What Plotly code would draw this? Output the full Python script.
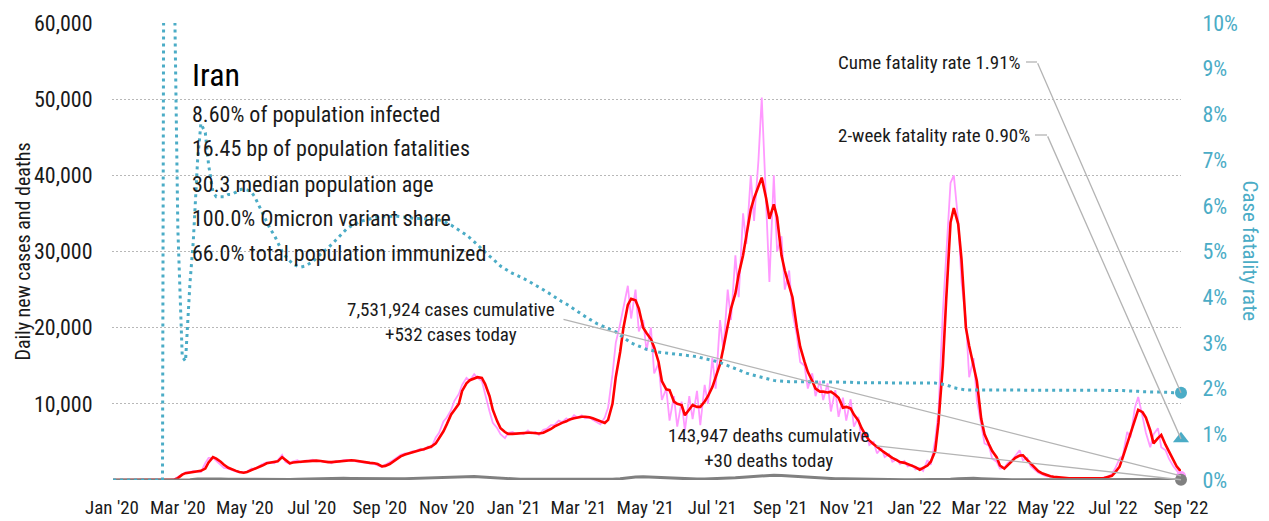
import pandas as pd
import plotly.graph_objects as go

# ---------------------------------------------------------------------------
# Data: Iran, Jan 2020 - Sep 2022.
# Case series and fatality rate are sampled twice a week (Thursday, Sunday),
# deaths once a week (Thursdays), all starting 2020-01-02.
# ---------------------------------------------------------------------------
START = "2020-01-02"

# 7-day average of daily new cases
cases_avg_2020 = [
    0, 0, 0, 0, 0, 0, 0, 0, 0, 0, 0, 0, 0, 0,
    0, 10, 60, 250, 700, 900, 1000, 1100, 1150, 1200, 1500, 2300, 3000, 2800, 2400, 2000, 1600, 1400, 1200, 1050,
    960, 1050, 1300, 1450, 1650, 1900, 2200, 2300, 2350, 2450, 3000, 2700, 2200, 2300, 2400, 2400, 2450, 2500, 2550, 2550,
    2500, 2400, 2350, 2350, 2400, 2450, 2550, 2600, 2600, 2550, 2450, 2350, 2300, 2250, 2200, 2100, 1800, 1850, 2100, 2400,
    2800, 3100, 3350, 3500, 3700, 3800, 3950, 4050, 4200, 4400, 4800, 5500, 6400, 7300, 8600, 9200, 10000, 11700, 12700, 13100,
    13300, 13500, 13400, 12600, 11000, 9200, 7700, 6800, 6300, 6050, 6050, 6100,
]
cases_avg_2021 = [
    6100, 6150, 6200, 6200, 6150, 6100, 6200, 6400, 6700, 7000, 7350, 7500, 7700, 7950, 8100, 8200, 8300, 8300, 8250, 8100,
    7900, 7700, 7500, 7900, 10000, 13500, 16800, 20000, 23000, 23800, 23600, 22500, 20000, 19300, 18500, 17400, 15500, 13000, 11900, 11800,
    10300, 10000, 9850, 8500, 9200, 9850, 9600, 9600, 10300, 11000, 12200, 13500, 15200, 17300, 20500, 22500, 24500, 27000, 29500, 32000,
    35500, 37000, 38500, 39700, 37000, 34300, 36200, 34500, 29500, 27500, 25500, 24000, 20000, 17500, 15500, 14200, 13000, 12000, 11600, 11600,
    11500, 11600, 11200, 10800, 9500, 9600, 9400, 8600, 7800, 6800, 5800, 5200, 4700, 4300, 3900, 3600, 3150, 2900, 2600, 2350,
    2250, 2100, 1950, 1700,
]
cases_avg_2022 = [
    1350, 1550, 1900, 2400, 3800, 7500, 15000, 23500, 33800, 35700, 33600, 29000, 20000, 17600, 15000, 13000, 8000, 6000, 4700, 3800,
    3000, 1900, 1500, 1900, 2500, 2900, 3200, 3250, 2600, 2150, 1600, 1150, 850, 650, 480, 420, 350, 300, 260, 230,
    220, 210, 200, 200, 200, 210, 220, 230, 260, 350, 550, 1000, 1750, 3000, 4800, 6300, 8000, 9200, 8900, 8200,
    6500, 4800, 5500, 5900, 4600, 3700, 2500, 1800, 1100,
]

# reported daily new cases
cases_daily_2020 = [
    0, 0, 0, 0, 0, 0, 0, 0, 0, 0, 0, 0, 0, 0,
    5, 20, 140, 380, 750, 1000, 1050, 1200, 1100, 1050, 2200, 2900, 2900, 2480, 1950, 1600, 1500, 1300, 1100, 1000,
    990, 1050, 1500, 1400, 1800, 2100, 2300, 2300, 2200, 2600, 3300, 2400, 2100, 2450, 2600, 2300, 2550, 2500, 2650, 2450,
    2500, 2350, 2400, 2200, 2500, 2400, 2600, 2650, 2550, 2450, 2400, 2300, 2250, 2200, 2100, 1900, 1700, 2000, 2300, 2600,
    3000, 3300, 3500, 3500, 3800, 3800, 4100, 3900, 4400, 4250, 5600, 6200, 7700, 8200, 9200, 10400, 11300, 12500, 13400, 13050,
    13900, 13400, 13000, 11200, 9000, 7500, 6800, 6000, 5500, 6200, 6300, 6000,
]
cases_daily_2021 = [
    6200, 6000, 6500, 6100, 6300, 5900, 6600, 6700, 7200, 7200, 7800, 7600, 8100, 7800, 8500, 8200, 8500, 8100, 8200, 7900,
    7600, 7300, 8200, 9500, 13900, 18000, 20500, 22500, 25500, 21200, 25000, 19500, 21000, 17000, 20000, 14000, 15300, 10500, 12000, 7800,
    11000, 7000, 10300, 6500, 11000, 8000, 11700, 7200, 12500, 10000, 16000, 12000, 21000, 17000, 25000, 21000, 29500, 24000, 35000, 31000,
    40000, 34000, 42000, 50200, 36000, 26000, 40000, 30000, 32000, 25000, 27500, 22000, 19000, 15500, 15000, 12000, 14000, 11000, 13000, 10500,
    12700, 9000, 11800, 8300, 10800, 7800, 10600, 7000, 8300, 5200, 6300, 4600, 5000, 3500, 4200, 3000, 3400, 2400, 2700, 2100,
    2500, 1800, 2000, 1400,
]
cases_daily_2022 = [
    1600, 1200, 2600, 2000, 5200, 9000, 22000, 30000, 39000, 40000, 34000, 26000, 21000, 13500, 16000, 10500, 7200, 4800, 4500, 2800,
    2400, 1500, 1600, 2200, 2600, 3200, 3900, 2600, 2900, 1800, 1300, 950, 700, 500, 460, 380, 330, 260, 250, 200,
    240, 170, 220, 180, 210, 200, 240, 200, 340, 400, 800, 1500, 2800, 3200, 6300, 5600, 9500, 10900, 8300, 6200,
    4300, 6000, 6800, 4300, 3900, 2800, 1800, 1200, 532,
]

# cumulative case fatality rate, percent
cfr_2020 = [
    0, 0, 0, 0, 0, 0, 0, 0, 0, 0, 0, 0, 0, 0,
    40, 18.6, 10.6, 5.5, 2.7, 2.6, 4.3, 5.2, 7.0, 7.8, 7.6, 6.9, 6.3, 6.2, 6.2, 6.2, 6.25, 6.25, 6.3, 6.35,
    6.37, 6.35, 6.3, 6.2, 6.0, 5.85, 5.65, 5.5, 5.35, 5.2, 5.0, 4.9, 4.8, 4.72, 4.68, 4.66, 4.68, 4.72, 4.78, 4.85,
    4.93, 5.0, 5.08, 5.15, 5.25, 5.33, 5.42, 5.5, 5.56, 5.6, 5.64, 5.67, 5.7, 5.72, 5.74, 5.75, 5.76, 5.76, 5.77, 5.77,
    5.77, 5.76, 5.75, 5.74, 5.73, 5.72, 5.72, 5.72, 5.72, 5.71, 5.7, 5.69, 5.66, 5.63, 5.58, 5.53, 5.47, 5.42, 5.36, 5.3,
    5.22, 5.15, 5.05, 4.98, 4.9, 4.84, 4.74, 4.68, 4.62, 4.57, 4.52, 4.49,
]
cfr_2021 = [
    4.45, 4.41, 4.36, 4.32, 4.27, 4.23, 4.17, 4.12, 4.06, 4.01, 3.95, 3.9, 3.85, 3.8, 3.74, 3.69, 3.63, 3.58, 3.52, 3.47,
    3.42, 3.39, 3.35, 3.32, 3.28, 3.24, 3.17, 3.12, 3.05, 3.0, 2.96, 2.93, 2.88, 2.86, 2.84, 2.82, 2.8, 2.79, 2.78, 2.77,
    2.76, 2.75, 2.74, 2.73, 2.72, 2.71, 2.7, 2.68, 2.66, 2.64, 2.62, 2.6, 2.57, 2.54, 2.5, 2.47, 2.43, 2.4, 2.36, 2.34,
    2.31, 2.29, 2.26, 2.24, 2.21, 2.19, 2.18, 2.17, 2.16, 2.15, 2.15, 2.15, 2.15, 2.15, 2.15, 2.15, 2.15, 2.15, 2.15, 2.14,
    2.14, 2.14, 2.14, 2.14, 2.14, 2.14, 2.14, 2.13, 2.13, 2.13, 2.13, 2.13, 2.13, 2.13, 2.13, 2.13, 2.13, 2.13, 2.13, 2.13,
    2.13, 2.12, 2.12, 2.12,
]
cfr_2022 = [
    2.12, 2.12, 2.12, 2.12, 2.12, 2.11, 2.1, 2.08, 2.05, 2.02, 2.0, 1.98, 1.97, 1.97, 1.97, 1.97, 1.97, 1.97, 1.97, 1.97,
    1.97, 1.97, 1.97, 1.97, 1.97, 1.97, 1.97, 1.97, 1.97, 1.96, 1.96, 1.96, 1.96, 1.96, 1.96, 1.96, 1.96, 1.96, 1.96, 1.96,
    1.96, 1.96, 1.96, 1.96, 1.96, 1.96, 1.96, 1.96, 1.96, 1.96, 1.96, 1.96, 1.96, 1.96, 1.95, 1.95, 1.94, 1.94, 1.93, 1.93,
    1.93, 1.92, 1.92, 1.92, 1.92, 1.92, 1.91, 1.91, 1.91,
]

# 7-day average of daily deaths (weekly)
deaths_avg_2020 = [
    0, 0, 0, 0, 0, 0, 0, 0.3, 4, 12, 45, 120, 140, 140, 125, 100, 85, 75, 60, 50, 50, 55,
    65, 75, 100, 125, 155, 190, 200, 210, 215, 190, 170, 150, 120, 115, 115, 150, 180,
    210, 230, 265, 320, 390, 430, 450, 470, 465, 390, 320, 230, 170, 125,
]
deaths_avg_2021 = [
    100, 90, 85, 80, 75, 75, 80, 85, 85, 85, 90, 90, 100, 160, 300, 400, 420, 380, 300, 220, 180,
    150, 130, 120, 130, 150, 180, 230, 300, 370, 450, 550, 620, 640, 590, 520, 430, 350, 280,
    230, 190, 165, 150, 125, 105, 90, 75, 60, 50, 45, 40, 35,
]
deaths_avg_2022 = [
    30, 30, 35, 50, 100, 180, 240, 220, 180, 130, 90, 60, 45, 40, 35, 25, 18, 12, 10, 8, 7,
    6, 6, 7, 8, 10, 15, 25, 40, 60, 75, 75, 65, 45, 30,
]

# latest figures
cases_cumulative = 7531924
cases_today = 532
deaths_cumulative = 143947
deaths_today = 30
cfr_cume_latest = 1.91
cfr_2wk_latest = 0.90

country = "Iran"
country_facts = [
    "8.60% of population infected",
    "16.45 bp of population fatalities",
    "30.3 median population age",
    "100.0% Omicron variant share",
    "66.0% total population immunized",
]

left_ticks = [10000, 20000, 30000, 40000, 50000, 60000]
right_ticks = list(range(0, 11))

# ---------------------------------------------------------------------------
cases_avg = cases_avg_2020 + cases_avg_2021 + cases_avg_2022
cases_daily = cases_daily_2020 + cases_daily_2021 + cases_daily_2022
cfr = cfr_2020 + cfr_2021 + cfr_2022
deaths_avg = deaths_avg_2020 + deaths_avg_2021 + deaths_avg_2022
assert len(cases_avg) == len(cases_daily) == len(cfr) == 279, (len(cases_avg), len(cases_daily), len(cfr))
assert len(deaths_avg) == 140, len(deaths_avg)

t0 = pd.Timestamp(START)
dates = [t0 + pd.Timedelta(days=7 * (k // 2) + 3 * (k % 2)) for k in range(len(cases_avg))]
weeks = list(pd.date_range(t0, periods=len(deaths_avg), freq="7D"))
last_day = dates[-1]

FONT = "Liberation Sans Narrow, Arial Narrow, Roboto Condensed, Roboto, sans-serif"
INK = "#1a1a1a"
TEAL = "#4BACC6"
PINK = "#FF99FF"
RED = "#FF0000"
GREY = "#808080"
LEADER = "#b4b4b4"

W, H = 1269, 521
ML, MR, MT, MB = 112, 88, 23, 41
PW, PH = W - ML - MR, H - MT - MB


def px(x):
    return (x - ML) / PW


def py(y):
    return (H - MB - y) / PH


fig = go.Figure()
fig.add_trace(go.Scatter(x=dates, y=cases_daily, mode="lines",
                         line=dict(color=PINK, width=1.8), hoverinfo="skip"))
fig.add_trace(go.Scatter(x=dates, y=cases_avg, mode="lines",
                         line=dict(color=RED, width=2.6), hoverinfo="skip"))
fig.add_trace(go.Scatter(x=weeks, y=deaths_avg, mode="lines",
                         line=dict(color=GREY, width=3), hoverinfo="skip"))
fig.add_trace(go.Scatter(x=dates, y=cfr, mode="lines", yaxis="y2",
                         line=dict(color=TEAL, width=3, dash="3px,4px"), hoverinfo="skip"))

# end-of-series markers
fig.add_trace(go.Scatter(x=[last_day], y=[cases_today], mode="markers", cliponaxis=False,
                         marker=dict(color=PINK, size=10), hoverinfo="skip"))
fig.add_trace(go.Scatter(x=[last_day], y=[deaths_today], mode="markers", cliponaxis=False,
                         marker=dict(color=GREY, size=12), hoverinfo="skip"))
fig.add_trace(go.Scatter(x=[last_day], y=[cfr_cume_latest], mode="markers", yaxis="y2", cliponaxis=False,
                         marker=dict(color=TEAL, size=12), hoverinfo="skip"))
fig.add_trace(go.Scatter(x=[last_day], y=[cfr_2wk_latest], mode="markers", yaxis="y2", cliponaxis=False,
                         marker=dict(color=TEAL, size=14, symbol="triangle-up"), hoverinfo="skip"))

ann = []
# country block
ann.append(dict(text=country, x=px(190), y=py(75), xref="paper", yref="paper",
                xanchor="left", yanchor="middle", showarrow=False,
                font=dict(family=FONT, size=32, color="#000")))
for i, line in enumerate(country_facts):
    ann.append(dict(text=line, x=px(190), y=py(114 + 35 * i), xref="paper", yref="paper",
                    xanchor="left", yanchor="middle", showarrow=False,
                    font=dict(family=FONT, size=22, color=INK)))

# callouts
ann.append(dict(text=f"{cases_cumulative:,} cases cumulative<br>+{cases_today:,} cases today",
                x=px(451), y=py(322), xref="paper", yref="paper", xanchor="center", yanchor="middle",
                showarrow=False, align="center", font=dict(family=FONT, size=19, color=INK)))
ann.append(dict(text=f"{deaths_cumulative:,} deaths cumulative<br>+{deaths_today:,} deaths today",
                x=px(769), y=py(448), xref="paper", yref="paper", xanchor="center", yanchor="middle",
                showarrow=False, align="center", font=dict(family=FONT, size=19, color=INK)))
ann.append(dict(text=f"Cume fatality rate {cfr_cume_latest:.2f}%", x=px(1023), y=py(62),
                xref="paper", yref="paper", xanchor="right", yanchor="middle", showarrow=False,
                font=dict(family=FONT, size=19, color=INK)))
ann.append(dict(text=f"2-week fatality rate {cfr_2wk_latest:.2f}%", x=px(1032), y=py(135),
                xref="paper", yref="paper", xanchor="right", yanchor="middle", showarrow=False,
                font=dict(family=FONT, size=19, color=INK)))

# leader lines ending on the latest values
lead = dict(text="", showarrow=True, arrowhead=0, arrowwidth=1.3, arrowcolor=LEADER,
            axref="pixel", ayref="pixel", standoff=0, startstandoff=0)
ann.append(dict(lead, x=last_day, y=cfr_cume_latest, xref="x", yref="y2", ax=-144, ay=-331))
ann.append(dict(lead, x=last_day, y=cfr_2wk_latest, xref="x", yref="y2", ax=-134, ay=-304))
ann.append(dict(lead, x=last_day, y=cases_today, xref="x", yref="y", ax=-619, ay=-157))
ann.append(dict(lead, x=last_day, y=deaths_today, xref="x", yref="y", ax=-306, ay=-34))

# axis titles
ann.append(dict(text="Daily new cases and deaths", x=px(22), y=0.5, xref="paper", yref="paper",
                textangle=-90, showarrow=False, xanchor="center", yanchor="middle",
                font=dict(family=FONT, size=20, color=INK)))
ann.append(dict(text="Case fatality rate", x=px(1250), y=0.5, xref="paper", yref="paper",
                textangle=90, showarrow=False, xanchor="center", yanchor="middle",
                font=dict(family=FONT, size=21, color=TEAL)))

shapes = [
    dict(type="line", xref="paper", yref="paper", x0=px(1026), x1=px(1037), y0=py(62), y1=py(62),
         line=dict(color=LEADER, width=1.3)),
    dict(type="line", xref="paper", yref="paper", x0=px(1035), x1=px(1047), y0=py(135), y1=py(135),
         line=dict(color=LEADER, width=1.3)),
]

fig.update_layout(
    width=W, height=H,
    margin=dict(l=ML, r=MR, t=MT, b=MB, pad=0, autoexpand=False),
    paper_bgcolor="white", plot_bgcolor="white",
    showlegend=False,
    font=dict(family=FONT, color=INK),
    annotations=ann,
    shapes=shapes,
    xaxis=dict(type="date", range=["2020-01-01", "2022-09-01"], tick0="2020-01-01", dtick="M2",
               tickformat="%b '%y", showgrid=False, zeroline=False, showline=False, automargin=False,
               ticks="outside", ticklen=10, tickcolor="rgba(0,0,0,0)",
               tickfont=dict(family=FONT, size=19, color=INK)),
    yaxis=dict(range=[0, 60000], tickmode="array", tickvals=left_ticks,
               ticktext=[f"{v:,}" for v in left_ticks],
               showgrid=True, gridcolor="#b8b8b8", gridwidth=1, griddash="2px,2px",
               zeroline=False, showline=False, automargin=False, ticks="outside", ticklen=14,
               tickcolor="rgba(0,0,0,0)", tickfont=dict(family=FONT, size=22, color=INK)),
    yaxis2=dict(range=[0, 10], overlaying="y", side="right", tickmode="array", tickvals=right_ticks,
                ticktext=[f"{v}%" for v in right_ticks], showgrid=False, zeroline=False, showline=False,
                automargin=False, ticks="outside", ticklen=16, tickcolor="rgba(0,0,0,0)",
                tickfont=dict(family=FONT, size=22, color=TEAL)),
)

fig.write_html("out.html", config={"displayModeBar": False})
